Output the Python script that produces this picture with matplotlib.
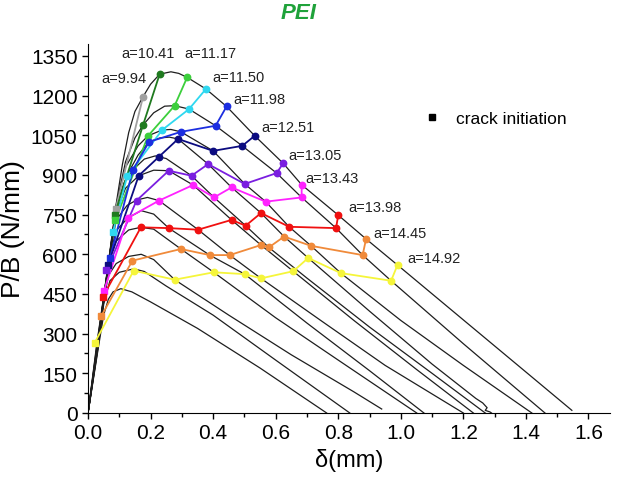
import matplotlib
matplotlib.use("Agg")
import matplotlib.pyplot as plt
from matplotlib.lines import Line2D
from matplotlib.ticker import MultipleLocator

plt.rcParams['font.family'] = ['Liberation Sans', 'DejaVu Sans']

# load-displacement curves (delta mm, P/B N/mm)
curve_1 = [(0, 0), (0.028, 262), (0.05, 440), (0.07, 612), (0.09, 790), (0.11, 940), (0.13, 1060),
           (0.15, 1140), (0.176, 1196), (0.20, 1243), (0.229, 1281), (0.265, 1290), (0.29, 1284),
           (0.317, 1269), (0.377, 1225), (0.443, 1159), (0.533, 1048), (0.624, 944), (0.683, 863),
           (0.80, 748), (0.889, 658), (0.99, 559), (1.20, 352), (1.40, 155), (1.547, 10)]
curve_2 = [(0, 0), (0.029, 262), (0.05, 437), (0.07, 606), (0.09, 785), (0.12, 950), (0.15, 1040),
           (0.176, 1089), (0.21, 1135), (0.245, 1160), (0.277, 1162), (0.323, 1149), (0.408, 1086),
           (0.493, 1010), (0.603, 907), (0.683, 815), (0.793, 699), (0.878, 597), (0.969, 500),
           (1.20, 262), (1.461, 0)]
curve_3 = [(0, 0), (0.03, 262), (0.05, 435), (0.07, 605), (0.09, 780), (0.12, 930), (0.16, 1010),
           (0.192, 1048), (0.237, 1070), (0.265, 1072), (0.297, 1063), (0.40, 991), (0.501, 866),
           (0.568, 799), (0.643, 704), (0.713, 632), (0.808, 529), (1.0, 350), (1.2, 180), (1.419, 0)]
curve_4 = [(0, 0), (0.03, 260), (0.05, 434), (0.07, 604), (0.09, 775), (0.125, 900), (0.16, 975),
           (0.195, 1025), (0.23, 1040), (0.26, 1043), (0.288, 1036), (0.384, 941), (0.459, 853),
           (0.553, 756), (0.627, 667), (0.704, 586), (0.9, 385), (1.1, 185), (1.24, 55), (1.262, 38),
           (1.276, 20), (1.27, 10), (1.285, 4), (1.29, 0)]
curve_5 = [(0, 0), (0.031, 262), (0.05, 433), (0.07, 602), (0.09, 770), (0.115, 870), (0.144, 920),
           (0.18, 960), (0.215, 972), (0.25, 962), (0.331, 897), (0.403, 815), (0.504, 708),
           (0.578, 626), (0.70, 510), (0.9, 325), (1.1, 150), (1.27, 0)]
curve_6 = [(0, 0), (0.031, 260), (0.05, 432), (0.07, 600), (0.09, 760), (0.12, 850), (0.162, 897),
           (0.21, 918), (0.258, 916), (0.336, 862), (0.459, 730), (0.553, 635), (0.656, 536),
           (0.85, 350), (1.05, 165), (1.232, 0)]
curve_7 = [(0, 0), (0.032, 262), (0.05, 430), (0.07, 598), (0.09, 730), (0.125, 785), (0.155, 805),
           (0.19, 815), (0.227, 803), (0.352, 693), (0.453, 597), (0.553, 509), (0.75, 345),
           (0.95, 180), (1.20, 0)]
curve_8 = [(0, 0), (0.032, 260), (0.05, 428), (0.07, 595), (0.09, 690), (0.128, 738), (0.17, 765),
           (0.21, 752), (0.258, 699), (0.389, 597), (0.501, 525), (0.70, 340), (0.90, 160), (1.074, 0)]
curve_9 = [(0, 0), (0.033, 262), (0.05, 425), (0.07, 585), (0.09, 650), (0.13, 692), (0.169, 702),
           (0.21, 695), (0.297, 620), (0.402, 532), (0.60, 360), (0.80, 200), (1.051, 0)]
curve_10 = [(0, 0), (0.033, 260), (0.05, 420), (0.065, 520), (0.09, 565), (0.13, 592), (0.17, 600),
            (0.21, 580), (0.277, 504), (0.45, 370), (0.65, 220), (0.85, 80), (0.939, 15)]
curve_11 = [(0, 0), (0.034, 262), (0.05, 410), (0.07, 500), (0.10, 532), (0.146, 545), (0.18, 535),
            (0.25, 480), (0.40, 370), (0.60, 200), (0.837, 0)]
curve_12 = [(0, 0), (0.035, 262), (0.05, 370), (0.065, 430), (0.08, 458), (0.105, 470), (0.14, 458),
            (0.20, 420), (0.35, 320), (0.55, 170), (0.763, 0)]
curves = [curve_1, curve_2, curve_3, curve_4, curve_5, curve_6, curve_7, curve_8, curve_9,
          curve_10, curve_11, curve_12]

# equal crack length points; first point of each is the crack initiation square
crack_labels = ['a=9.94', 'a=10.41', 'a=11.17', 'a=11.50', 'a=11.98', 'a=12.51',
                'a=13.05', 'a=13.43', 'a=13.98', 'a=14.45', 'a=14.92']
a_994 = [(0.088, 770), (0.176, 1196)]
a_1041 = [(0.085, 750), (0.176, 1089), (0.229, 1281)]
a_1117 = [(0.087, 728), (0.192, 1048), (0.277, 1162), (0.317, 1269)]
a_1150 = [(0.08, 685), (0.125, 895), (0.237, 1070), (0.323, 1149), (0.377, 1225)]
a_1198 = [(0.07, 586), (0.144, 920), (0.195, 1025), (0.297, 1063), (0.408, 1086), (0.443, 1159)]
a_1251 = [(0.064, 560), (0.162, 897), (0.227, 969), (0.288, 1036), (0.40, 991), (0.493, 1010),
          (0.533, 1048)]
a_1305 = [(0.059, 539), (0.155, 803), (0.258, 916), (0.331, 897), (0.384, 941), (0.501, 866),
          (0.603, 907), (0.624, 944)]
a_1343 = [(0.051, 462), (0.128, 738), (0.227, 803), (0.336, 862), (0.403, 815), (0.459, 853),
          (0.568, 799), (0.683, 815), (0.683, 863)]
a_1398 = [(0.048, 440), (0.169, 702), (0.258, 699), (0.352, 693), (0.459, 730), (0.504, 708),
          (0.553, 756), (0.643, 704), (0.793, 699), (0.80, 748)]
a_1445 = [(0.043, 368), (0.142, 576), (0.297, 620), (0.389, 597), (0.453, 597), (0.553, 635),
          (0.578, 626), (0.627, 667), (0.713, 632), (0.878, 597), (0.889, 658)]
a_1492 = [(0.021, 265), (0.146, 538), (0.277, 504), (0.402, 532), (0.501, 525), (0.553, 509),
          (0.656, 536), (0.704, 586), (0.808, 529), (0.969, 500), (0.99, 561)]
series = [a_994, a_1041, a_1117, a_1150, a_1198, a_1251, a_1305, a_1343, a_1398, a_1445, a_1492]

colors = ['#a0a0a0', '#1f7a1f', '#3ccf3c', '#2fd8f0', '#1c2ee0', '#0c0c80', '#7a1ee0',
          '#ff22ff', '#f01010', '#f08a3a', '#f5f53a']
label_pos = [(0.115, 1266), (0.192, 1361), (0.39, 1361), (0.48, 1271), (0.548, 1187), (0.64, 1080),
             (0.725, 975), (0.78, 888), (0.917, 777), (0.997, 679), (1.106, 585)]

fig = plt.figure(figsize=(6.19, 4.81), dpi=100)
ax = fig.add_axes([0.1422, 0.1393, 0.8433, 0.7671])

for c in curves:
    ax.plot([p[0] for p in c], [p[1] for p in c], color='#1e1e1e', lw=0.9, zorder=2)

for pts, col in zip(series, colors):
    xs = [p[0] for p in pts]
    ys = [p[1] for p in pts]
    ax.plot(xs, ys, '-', color=col, lw=1.3, zorder=3)
    ax.plot(xs[1:], ys[1:], 'o', color=col, ms=4.6, zorder=4)
    ax.plot(xs[:1], ys[:1], 's', color=col, ms=5, zorder=4)

for lab, (tx, ty) in zip(crack_labels, label_pos):
    ax.text(tx, ty, lab, fontsize=10.5, ha='center', va='center', color='#222222')

ax.legend(handles=[Line2D([], [], marker='s', color='k', ls='', ms=5)], labels=['crack initiation'],
          frameon=False, loc='center left', bbox_to_anchor=(0.642, 0.797), fontsize=12.5,
          handlelength=1.0, handletextpad=0.9, borderpad=0, borderaxespad=0)

ax.set_xlim(0, 1.669)
ax.set_ylim(0, 1395)
ax.xaxis.set_major_locator(MultipleLocator(0.2))
ax.xaxis.set_minor_locator(MultipleLocator(0.1))
ax.yaxis.set_major_locator(MultipleLocator(150))
ax.yaxis.set_minor_locator(MultipleLocator(75))
ax.xaxis.set_major_formatter(matplotlib.ticker.FormatStrFormatter('%.1f'))
ax.spines['top'].set_visible(False)
ax.spines['right'].set_visible(False)
ax.tick_params(which='major', length=4, width=1, labelsize=15, direction='out')
ax.tick_params(which='minor', length=3, width=1, direction='out')
ax.set_xlabel('δ(mm)', fontsize=17, labelpad=4)
ax.set_ylabel('P/B (N/mm)', fontsize=19, labelpad=4)

fig.text(0.483, 0.971, 'PEI', color='#1fa23a', fontsize=16, fontweight='bold', fontstyle='italic',
         ha='center', va='center')

fig.savefig('out.png', dpi=100)
